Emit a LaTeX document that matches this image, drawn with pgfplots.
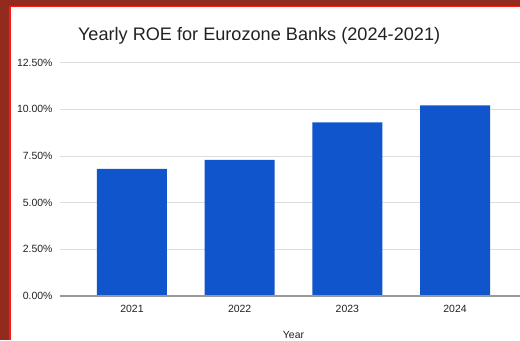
\documentclass[border=0pt]{standalone}
\usepackage{pgfplots}
\pgfplotsset{compat=1.18}
\usepackage{fontspec}
\setmainfont{Liberation Sans}
\definecolor{barblue}{HTML}{1155CC}
\definecolor{gridgray}{HTML}{DDDDDD}
\definecolor{axisgray}{HTML}{999999}
\definecolor{txt}{HTML}{222222}
\definecolor{framedark}{HTML}{922B1E}
\definecolor{framered}{HTML}{FF1A1A}
\begin{document}
\begin{tikzpicture}[x=1bp,y=1bp]
\path[use as bounding box] (0,0) rectangle (520,340);
\clip (0,0) rectangle (520,340);
\fill[white] (0,0) rectangle (520,340);
\begin{axis}[
  at={(60bp,44bp)}, anchor=south west,
  scale only axis, width=467bp, height=233.3bp,
  xmin=-0.668, xmax=3.668, ymin=0, ymax=12.5,
  axis line style={draw=none},
  ytick={0,2.5,5,7.5,10,12.5},
  yticklabels={0.00\%,2.50\%,5.00\%,7.50\%,10.00\%,12.50\%},
  xtick={0,1,2,3}, xticklabels={2021,2022,2023,2024},
  major tick length=0pt,
  ymajorgrids, grid style={gridgray, line width=0.9bp},
  ticklabel style={font=\fontsize{10.5}{12}\selectfont, text=txt},
  yticklabel style={xshift=-4bp},
  xticklabel style={yshift=-6bp},
  xlabel={Year}, xlabel style={font=\fontsize{10.5}{12}\selectfont, text=txt, yshift=-12bp},
  title={Yearly ROE for Eurozone Banks (2024-2021)},
  title style={font=\fontsize{18.2}{21}\selectfont, text=txt, anchor=west, at={(axis description cs:0.031,1.09)}},
  clip=false,
]
\addplot[ybar, bar width=70bp, fill=barblue, draw=none] coordinates {(0,6.81) (1,7.30) (2,9.30) (3,10.22)};
\draw[axisgray, line width=1.4bp] (axis cs:-0.668,0) -- (axis cs:3.668,0);
\end{axis}
\fill[framedark] (0,334) rectangle (520,340);
\fill[framered] (0,332.5) rectangle (520,334);
\fill[framedark] (0,0) rectangle (9,340);
\fill[framered] (9,0) rectangle (11,332.5);
\end{tikzpicture}
\end{document}
